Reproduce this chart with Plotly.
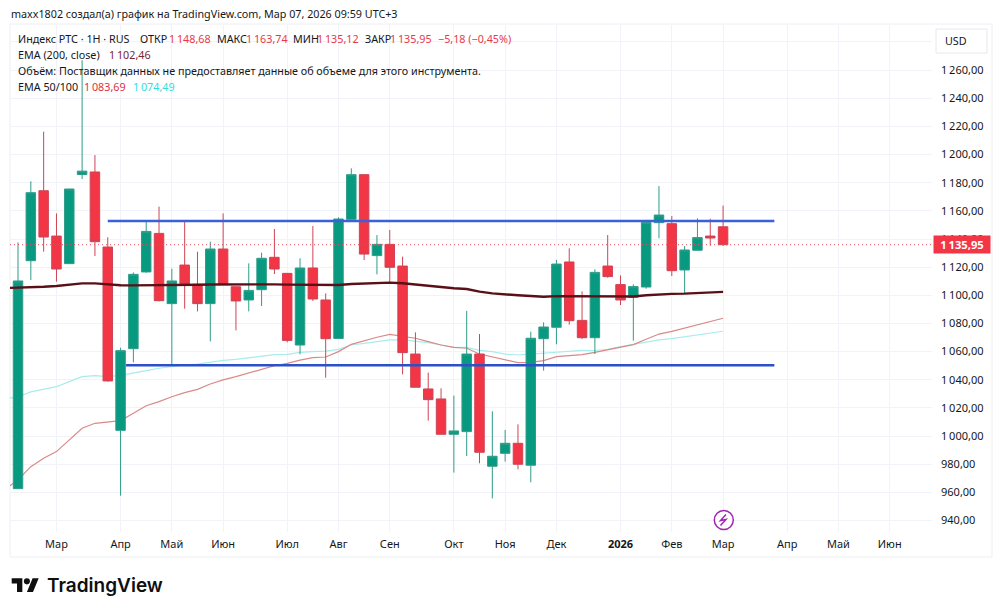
import pandas as pd
import plotly.graph_objects as go

# weekly bars, one week earlier is only there for the EMA lead-in
ema_dates = pd.date_range("2025-02-03", periods=57, freq="7D")
weeks = ema_dates[1:]

opens = [962.7, 1124.6, 1174.3, 1142.1, 1122.5, 1185.8, 1187.6, 1134.3, 1004.1, 1062.1, 1116.6, 1144, 1094.1, 1121.5,
         1107.8, 1094.1, 1132.9, 1106.1, 1096.7, 1104, 1127, 1115.6, 1064.7, 1119.4, 1096.7, 1069.4, 1154, 1185.7,
         1128.2, 1136.2, 1120.8, 1058.3, 1033.5, 1026.4, 1001.3, 1003.2, 1058.3, 978.6, 987.8, 994.9, 979.3, 1069.2,
         1077.3, 1123.7, 1082.2, 1069.9, 1120.8, 1107.6, 1098.6, 1105.9, 1151.6, 1150.9, 1118, 1132, 1142.1, 1148.68]
closes = [1110.2, 1172.9, 1141.4, 1118.7, 1175.5, 1188.2, 1138.1, 1039.2, 1060.7, 1114.9, 1145.4, 1096.2, 1110.2, 1108,
          1094.1, 1132.9, 1107.8, 1096, 1103.5, 1126.3, 1118.7, 1068, 1119.4, 1097.4, 1069.2, 1154.2, 1185.7, 1129.3,
          1136.2, 1119.9, 1059.3, 1034.7, 1025.9, 1001.3, 1003.7, 1058.3, 988.5, 985.7, 994.9, 980, 1069.5, 1077.5,
          1122.2, 1082, 1069.9, 1116.3, 1113.3, 1096.7, 1106.2, 1151.8, 1157, 1117.5, 1132.2, 1141, 1140.7, 1135.95]
highs = [1137.6, 1181, 1216.2, 1158.2, 1175.5, 1267, 1199.6, 1141.2, 1062.8, 1116.3, 1152.3, 1163, 1118.9, 1152.3,
         1131, 1138.1, 1158.2, 1106.1, 1122.7, 1130.3, 1147.1, 1115.6, 1126.3, 1149.2, 1101.4, 1155.4, 1190.2, 1185.7,
         1142.8, 1146.4, 1127.5, 1073.7, 1045.1, 1034, 1028.8, 1088.9, 1072.5, 1017.6, 1004.4, 1008.4, 1074.2, 1080.8,
         1125.1, 1133.4, 1102.8, 1118.5, 1142.8, 1114.2, 1107.8, 1153, 1177.6, 1156.3, 1135, 1154.7, 1154.4, 1163.74]
lows = [962.7, 1110.9, 1131, 1109.7, 1122.5, 1182.6, 1127.9, 1038.7, 957.7, 1052.4, 1116.1, 1095.7, 1050, 1090.5,
        1088.6, 1067.3, 1107.8, 1075.1, 1088.6, 1092.4, 1115.1, 1066.6, 1058.1, 1096, 1041.5, 1069.4, 1154, 1125.1,
        1114.9, 1109.2, 1043.9, 1034.7, 1011, 1001.3, 974.1, 985.9, 980.7, 955.8, 981.9, 976.4, 967.2, 1046.5,
        1065.2, 1079.2, 1069, 1058.3, 1112.5, 1093.1, 1067.8, 1104.7, 1140.5, 1113.7, 1101.4, 1132, 1135.3, 1135.12]

ema200 = [1105.2, 1105.4, 1105.7, 1106.1, 1106.6, 1107.6, 1108.5, 1108.5, 1107.6, 1107.2, 1107.1, 1107.1, 1107.1, 1107.1,
          1107.3, 1107.5, 1107.7, 1107.8, 1107.8, 1107.8, 1107.8, 1107.8, 1107.6, 1107.4, 1107.3, 1107.3, 1107.3, 1108,
          1108.5, 1108.9, 1109, 1108.6, 1107.6, 1106.6, 1105.7, 1105, 1104.5, 1102.6, 1101.4, 1100.5, 1100, 1099.5,
          1099, 1099.4, 1099.4, 1099.4, 1099.4, 1099.2, 1099, 1099.2, 1100, 1100.7, 1101, 1101.2, 1101.5, 1101.9, 1102.46]
ema50 = [962.2, 968.9, 978.3, 984.3, 989, 997.3, 1005.6, 1009.1, 1009.8, 1011, 1016.2, 1021.6, 1024.5, 1028, 1030.9,
         1033.2, 1037, 1039.9, 1042.2, 1044.6, 1047.4, 1050, 1051.7, 1054, 1055.7, 1056.2, 1060, 1065.2, 1067.8, 1070.2,
         1072.3, 1071.1, 1069.5, 1067.1, 1064.7, 1063, 1062.4, 1058.3, 1056.4, 1054, 1052.2, 1052.4, 1053.6, 1056.4,
         1057.4, 1057.9, 1059.5, 1061.2, 1063.1, 1065, 1068.8, 1072.5, 1074.4, 1076.8, 1079.2, 1081.5, 1083.69]
ema100 = [1026.4, 1028, 1031.4, 1033.2, 1035.1, 1038.7, 1042.2, 1042.9, 1042.2, 1043.2, 1044.6, 1046.5, 1048.2, 1049.6,
          1050.5, 1051.2, 1052.7, 1053.8, 1054.5, 1055.5, 1056.9, 1057.9, 1058.1, 1059.5, 1060, 1060.4, 1061.6, 1064.7,
          1065.9, 1067.3, 1068.3, 1068.3, 1067.6, 1066.4, 1064.7, 1063, 1063, 1060.9, 1060, 1058.3, 1057.6, 1058.3,
          1058.8, 1059.8, 1060.5, 1060.9, 1060.8, 1061.7, 1063.5, 1065.2, 1067.1, 1068.3, 1069.2, 1070.6, 1071.8, 1073, 1074.49]

upper_dates = ["2025-03-31", "2026-03-30"]
upper_level = [1152.8, 1152.8]
lower_dates = ["2025-04-10", "2026-03-30"]
lower_level = [1050.3, 1050.3]

month_dates = ["2025-03-03", "2025-04-07", "2025-05-05", "2025-06-02", "2025-07-07", "2025-08-04", "2025-09-01",
               "2025-10-06", "2025-11-03", "2025-12-01", "2026-01-05", "2026-02-02", "2026-03-02", "2026-04-06",
               "2026-05-04", "2026-06-01"]
month_labels = ["Мар", "Апр", "Май", "Июн", "Июл", "Авг", "Сен", "Окт", "Ноя", "Дек", "<b>2026</b>", "Фев", "Мар",
                "Апр", "Май", "Июн"]
price_ticks = [940, 960, 980, 1000, 1020, 1040, 1060, 1080, 1100, 1120, 1140, 1160, 1180, 1200, 1220, 1240, 1260, 1280]
price_labels = ["940,00", "960,00", "980,00", "1\u2009000,00", "1\u2009020,00", "1\u2009040,00", "1\u2009060,00",
                "1\u2009080,00", "1\u2009100,00", "1\u2009120,00", "1\u2009140,00", "1\u2009160,00", "1\u2009180,00",
                "1\u2009200,00", "1\u2009220,00", "1\u2009240,00", "1\u2009260,00", ""]

FONT = "Noto Sans"
TEXT = "#131722"
RED = "#e63a4b"
GREEN_UP = "#089981"
RED_DOWN = "#f23645"
GRID = "#f1f3f8"


# page pixels to paper coordinates, plot area is x 10-932, y 25-532
def px(x):
    return (x - 10) / 922


def py(y):
    return (532 - y) / 507


def label(x, y, text, color=TEXT, size=10.75, family=FONT, **kw):
    return dict(xref="paper", yref="paper", x=px(x), y=py(y), text=text, showarrow=False, xanchor="left",
                yanchor="middle", align="left", font=dict(family=family, size=size, color=color, **kw),
                borderpad=0)


def logo_path():
    # TradingView mark, 36x28 icon scaled to page pixels
    s = 0.76
    def p(a, b):
        return f"{px(11.7 + a * s):.5f},{py(578.3 + (b - 4) * s):.5f}"
    t = "M" + " L".join(p(a, b) for a, b in [(14, 22), (7, 22), (7, 11), (0, 11), (0, 4), (14, 4)]) + " Z"
    slash = "M" + " L".join(p(a, b) for a, b in [(28, 22), (20, 22), (27.5, 4), (35.5, 4)]) + " Z"
    return t + " " + slash


fig = go.Figure()
fig.add_trace(go.Scatter(x=ema_dates, y=ema100, mode="lines", line=dict(color="#a8ecec", width=1.2), zorder=0))
fig.add_trace(go.Scatter(x=ema_dates, y=ema50, mode="lines", line=dict(color="#d98a88", width=1.2), zorder=0))
fig.add_trace(go.Candlestick(
    x=weeks, open=opens, high=highs, low=lows, close=closes, whiskerwidth=0, zorder=1,
    increasing=dict(line=dict(color="#2f9c88", width=1), fillcolor=GREEN_UP),
    decreasing=dict(line=dict(color="#cf4455", width=1), fillcolor=RED_DOWN),
))
fig.add_trace(go.Scatter(x=ema_dates, y=ema200, mode="lines", line=dict(color="#5a1016", width=2.4), zorder=2))
fig.add_trace(go.Scatter(x=upper_dates, y=upper_level, mode="lines", line=dict(color="#3a62d8", width=2.4), zorder=3))
fig.add_trace(go.Scatter(x=lower_dates, y=lower_level, mode="lines", line=dict(color="#2c50c8", width=2.4), zorder=3))

annotations = [
    label(10, 14, "maxx1802 создал(а) график на TradingView.com, Мар 07, 2026 09:59 UTC+3"),
    label(17, 39, "Индекс РТС · 1Н · RUS"),
    label(139, 39, "ОТКР"), label(168, 39, "1\u2009148,68", RED),
    label(216, 39, "МАКС"), label(245, 39, "1\u2009163,74", RED),
    label(292, 39, "МИН"), label(316, 39, "1\u2009135,12", RED),
    label(364, 39, "ЗАКР"), label(389, 39, "1\u2009135,95", RED),
    label(437, 39, "−5,18 (−0,45%)", RED),
    label(17, 55, "EMA (200, close)"), label(108, 55, "1\u2009102,46", "#7a2530"),
    label(17, 71, "Объём: Поставщик данных не предоставляет данные об объеме для этого инструмента."),
    label(17, 87, "EMA 50/100"), label(83, 87, "1\u2009083,69", "#e0303f"), label(132, 87, "1\u2009074,49", "#35dcdc"),
    label(944, 41, "USD"),
    label(46, 585, "TradingView", "#0f0f0f", size=19, family="Inter", weight=600),
    dict(xref="paper", yref="y", x=px(933), y=closes[-1], text="<b>1\u2009135,95</b>", showarrow=False, xanchor="left",
         yanchor="middle", width=54, height=15, bgcolor=RED_DOWN, font=dict(family=FONT, size=11.2, color="white")),
]

shapes = [
    dict(type="rect", xref="paper", yref="paper", x0=px(10), x1=px(992), y0=py(24), y1=py(557),
         line=dict(color="#eceef3", width=1), layer="below"),
    dict(type="line", xref="paper", yref="y", x0=0, x1=1, y0=closes[-1], y1=closes[-1],
         line=dict(color="#e8505f", width=1, dash="1px,3px")),
    dict(type="rect", xref="paper", yref="paper", x0=px(936), x1=px(987), y0=py(29), y1=py(53),
         fillcolor="white", line=dict(color="#e6e8ee", width=1)),
    dict(type="circle", xref="paper", yref="paper", x0=px(714.3), x1=px(733.3), y0=py(510.5), y1=py(529.5),
         fillcolor="white", line=dict(color="#9c27b0", width=1.5)),
    dict(type="path", xref="paper", yref="paper",
         path="M" + " L".join(f"{px(a):.5f},{py(b):.5f}" for a, b in
                              [(726, 514.5), (720.5, 520.5), (726, 519.5), (720.5, 525.5)]),
         line=dict(color="#9c27b0", width=1.5)),
    dict(type="path", xref="paper", yref="paper", path=logo_path(), fillcolor="#0f0f0f", line=dict(width=0)),
    dict(type="circle", xref="paper", yref="paper", x0=px(11.7 + 16 * 0.76), x1=px(11.7 + 24 * 0.76),
         y0=py(578.3), y1=py(578.3 + 8 * 0.76), fillcolor="#0f0f0f", line=dict(width=0)),
]

fig.update_layout(
    width=1000, height=614, autosize=False, margin=dict(l=10, r=68, t=25, b=82, pad=0),
    paper_bgcolor="white", plot_bgcolor="white", showlegend=False, boxmode="overlay", boxgap=0.26, boxgroupgap=0,
    font=dict(family=FONT, size=11, color=TEXT), annotations=annotations, shapes=shapes,
    xaxis=dict(type="date", range=["2025-02-05 15:00", "2026-06-24 02:00"], tickvals=month_dates,
               ticktext=month_labels, tickangle=0, showgrid=True, gridcolor=GRID, gridwidth=1, zeroline=False,
               showline=False, ticks="", rangeslider=dict(visible=False), ticklabelstandoff=4),
    yaxis=dict(range=[931.9, 1292], side="right", tickvals=price_ticks, ticktext=price_labels, showgrid=True,
               gridcolor=GRID, gridwidth=1, zeroline=False, showline=False, ticks="", ticklabelstandoff=8,
               tickfont=dict(family=FONT, size=11)),
)

fig.write_html("out.html", config={"displayModeBar": False}, post_script="document.body.style.margin='0';")
